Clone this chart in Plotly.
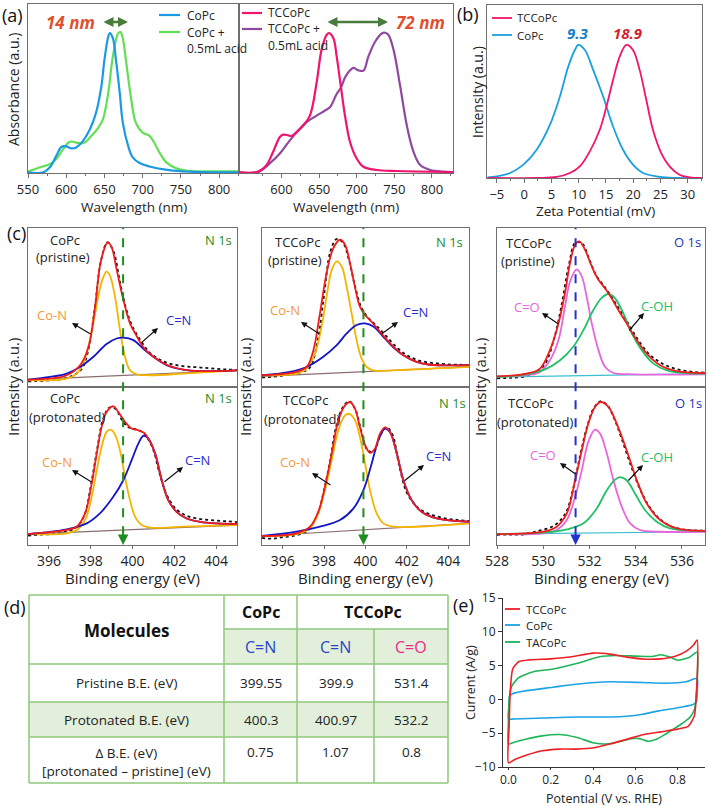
import plotly.graph_objects as go

W, H = 709, 806
FONT = "Open Sans"
FRAME = "#6f6f6f"

# ---------------- DATA ----------------
# (a) UV-vis, left panel
uv_copc_wl = [550, 570, 578.6, 587, 594, 600, 607, 613, 622, 631, 639, 646, 650, 655, 657, 661, 665, 670, 674, 681, 687, 696, 709, 730, 752, 774, 826]
uv_copc_abs = [0, 0, 0.030, 0.098, 0.152, 0.154, 0.142, 0.148, 0.187, 0.256, 0.354, 0.512, 0.669, 0.807, 0.827, 0.797, 0.669, 0.472, 0.295, 0.157, 0.089, 0.055, 0.035, 0.016, 0.006, 0.002, 0]
uv_copc_acid_wl = [550, 566, 579, 587, 596, 603, 607, 616, 624, 633, 642, 648, 655, 661, 668, 671, 674, 678, 685, 691, 700, 709, 715, 722, 731, 744, 757, 774, 826]
uv_copc_acid_abs = [0.004, 0.030, 0.049, 0.079, 0.138, 0.177, 0.183, 0.173, 0.177, 0.217, 0.266, 0.315, 0.472, 0.689, 0.827, 0.833, 0.797, 0.669, 0.433, 0.295, 0.236, 0.217, 0.177, 0.118, 0.059, 0.024, 0.010, 0.006, 0.006]
# (a) UV-vis, right panel
uv_tccopc_wl = [543.5, 568.9, 580, 588.9, 597.8, 602.2, 608.9, 613.3, 620, 628.9, 637.8, 646.7, 653.3, 660, 663.1, 668.9, 673.3, 679.1, 684.4, 691.1, 700, 708.9, 726.6, 753.3, 828]
uv_tccopc_abs = [0, 0.004, 0.043, 0.122, 0.210, 0.224, 0.220, 0.216, 0.239, 0.278, 0.337, 0.533, 0.729, 0.817, 0.827, 0.798, 0.690, 0.504, 0.337, 0.180, 0.082, 0.033, 0.014, 0.008, 0.002]
uv_tccopc_acid_wl = [543.5, 568.9, 584.4, 597.8, 611.1, 624.4, 633.3, 646.7, 657.8, 664.4, 673.3, 679.1, 684.4, 691.1, 695.5, 702.2, 708.9, 715.5, 724.4, 733.3, 737.7, 742.2, 748.9, 757.7, 766.6, 775.5, 784.4, 797.8, 815.5, 828]
uv_tccopc_acid_abs = [0, 0.002, 0.053, 0.112, 0.190, 0.259, 0.298, 0.337, 0.367, 0.386, 0.465, 0.504, 0.563, 0.606, 0.620, 0.606, 0.604, 0.688, 0.776, 0.825, 0.829, 0.816, 0.729, 0.514, 0.278, 0.122, 0.043, 0.014, 0.004, 0]
shift_labels = ["14 nm", "72 nm"]

# (b) Zeta potential
zeta_copc_mv = [-6.7, -5, -2.57, -0.13, 2.3, 4.74, 6.56, 8.09, 9.3, 9.91, 11.13, 12.65, 14.48, 16.3, 18.13, 19.95, 21.78, 24.21, 26.65, 32.55]
zeta_copc_int = [0.004, 0.010, 0.029, 0.077, 0.163, 0.308, 0.471, 0.644, 0.740, 0.769, 0.740, 0.625, 0.471, 0.298, 0.163, 0.077, 0.029, 0.010, 0.002, 0]
zeta_tccopc_mv = [-6.7, 2.3, 5.96, 8.39, 10.22, 12.04, 13.87, 15.09, 16.3, 17.52, 18.74, 19.95, 21.17, 22.39, 23.61, 25.13, 26.65, 28.47, 30.3, 32.55]
zeta_tccopc_int = [0, 0, 0.006, 0.029, 0.067, 0.154, 0.279, 0.413, 0.567, 0.702, 0.769, 0.740, 0.625, 0.452, 0.279, 0.144, 0.067, 0.019, 0.004, 0]
zeta_labels = ["9.3", "18.9"]

# (c) XPS  -- column 1: CoPc N 1s
c1u_base_be = [395, 405]; c1u_base = [0.046, 0.105]
c1u_con_be = [395.0, 396.85, 397.33, 397.65, 397.97, 398.21, 398.44, 398.6, 398.76, 398.92, 399.16, 399.4, 399.64, 399.88, 400.2, 400.84, 402.43, 405.0]
c1u_con = [0.042, 0.053, 0.084, 0.15, 0.30, 0.46, 0.62, 0.69, 0.726, 0.70, 0.57, 0.36, 0.19, 0.105, 0.08, 0.074, 0.084, 0.105]
c1u_cn_be = [395.0, 396.05, 396.85, 397.49, 398.13, 398.76, 399.24, 399.56, 400.04, 400.52, 401.0, 401.63, 402.43, 403.23, 405.0]
c1u_cn = [0.046, 0.063, 0.084, 0.126, 0.19, 0.27, 0.305, 0.31, 0.295, 0.24, 0.19, 0.137, 0.109, 0.10, 0.105]
c1u_fit_be = [395.0, 396.85, 397.49, 397.89, 398.21, 398.44, 398.68, 398.81, 399.0, 399.24, 399.56, 399.88, 400.2, 400.52, 401.0, 401.63, 402.43, 403.23, 405.0]
c1u_fit = [0.046, 0.074, 0.137, 0.25, 0.505, 0.76, 0.88, 0.91, 0.88, 0.74, 0.55, 0.40, 0.32, 0.25, 0.19, 0.14, 0.11, 0.10, 0.105]
c1u_raw_be = [395.0, 395.8, 396.6, 397.2, 397.6, 397.9, 398.2, 398.5, 398.8, 399.1, 399.4, 399.7, 400.0, 400.4, 400.8, 401.2, 401.6, 402.0, 402.5, 403.0, 403.5, 404.0, 404.5, 405.0]
c1u_raw = [0.035, 0.04, 0.05, 0.075, 0.12, 0.24, 0.50, 0.80, 0.91, 0.85, 0.66, 0.49, 0.38, 0.29, 0.22, 0.18, 0.155, 0.14, 0.13, 0.125, 0.12, 0.115, 0.11, 0.108]

c1l_base_be = [395, 405]; c1l_base = [0.069, 0.126]
c1l_con_be = [395.0, 396.85, 397.33, 397.73, 398.05, 398.29, 398.52, 398.76, 398.96, 399.16, 399.4, 399.64, 399.88, 400.12, 400.44, 400.84, 402.43, 405.0]
c1l_con = [0.069, 0.074, 0.095, 0.158, 0.305, 0.474, 0.62, 0.716, 0.73, 0.70, 0.60, 0.43, 0.284, 0.18, 0.126, 0.11, 0.116, 0.126]
c1l_cn_be = [395.0, 396.85, 397.81, 398.44, 399.08, 399.56, 399.96, 400.28, 400.52, 400.76, 401.08, 401.4, 401.71, 402.11, 402.59, 403.23, 404.03, 405.0]
c1l_cn = [0.069, 0.099, 0.137, 0.20, 0.305, 0.41, 0.537, 0.642, 0.69, 0.674, 0.58, 0.41, 0.284, 0.21, 0.168, 0.147, 0.137, 0.133]
c1l_fit_be = [395.0, 396.85, 397.33, 397.73, 398.05, 398.29, 398.52, 398.76, 399.08, 399.32, 399.64, 399.96, 400.28, 400.55, 400.76, 401.08, 401.4, 401.71, 402.11, 402.59, 403.23, 404.03, 405.0]
c1l_fit = [0.069, 0.095, 0.116, 0.20, 0.39, 0.58, 0.747, 0.842, 0.878, 0.842, 0.78, 0.737, 0.726, 0.71, 0.674, 0.58, 0.41, 0.284, 0.21, 0.168, 0.147, 0.137, 0.133]
c1l_raw_be = [395.0, 395.5, 396.2, 396.8, 397.3, 397.7, 398.0, 398.3, 398.6, 398.9, 399.2, 399.5, 399.8, 400.1, 400.4, 400.7, 401.0, 401.3, 401.6, 402.0, 402.5, 403.0, 403.5, 404.0, 404.5, 405.0]
c1l_raw = [0.06, 0.065, 0.07, 0.085, 0.11, 0.19, 0.37, 0.60, 0.80, 0.87, 0.86, 0.79, 0.745, 0.735, 0.72, 0.68, 0.60, 0.45, 0.33, 0.24, 0.19, 0.17, 0.16, 0.155, 0.15, 0.145]

# column 2: TCCoPc N 1s
c2u_base_be = [395, 405]; c2u_base = [0.067, 0.126]
c2u_con_be = [395.0, 396.67, 397.16, 397.56, 397.88, 398.12, 398.37, 398.61, 398.85, 399.09, 399.33, 399.57, 399.81, 400.06, 400.38, 402.23, 405.0]
c2u_con = [0.074, 0.084, 0.116, 0.21, 0.38, 0.568, 0.737, 0.79, 0.758, 0.63, 0.463, 0.295, 0.18, 0.126, 0.105, 0.11, 0.126]
c2u_cn_be = [395.0, 396.35, 397.16, 397.96, 398.61, 399.09, 399.57, 399.98, 400.38, 400.86, 401.34, 401.83, 402.47, 403.12, 405.0]
c2u_cn = [0.074, 0.095, 0.126, 0.19, 0.263, 0.337, 0.39, 0.40, 0.38, 0.316, 0.25, 0.20, 0.158, 0.14, 0.137]
c2u_fit_be = [395.0, 396.67, 397.16, 397.48, 397.8, 398.12, 398.45, 398.77, 399.01, 399.25, 399.49, 399.73, 399.98, 400.3, 400.7, 401.34, 401.83, 402.47, 403.12, 405.0]
c2u_fit = [0.074, 0.095, 0.126, 0.23, 0.463, 0.716, 0.874, 0.926, 0.895, 0.78, 0.63, 0.505, 0.453, 0.41, 0.347, 0.255, 0.20, 0.158, 0.14, 0.137]
c2u_raw_be = [395.0, 395.5, 396.2, 396.8, 397.3, 397.7, 398.0, 398.3, 398.6, 398.9, 399.2, 399.5, 399.8, 400.1, 400.5, 401.0, 401.5, 402.0, 402.5, 403.0, 403.5, 404.0, 404.5, 405.0]
c2u_raw = [0.06, 0.065, 0.075, 0.09, 0.12, 0.30, 0.58, 0.85, 0.93, 0.91, 0.80, 0.63, 0.50, 0.44, 0.39, 0.32, 0.25, 0.20, 0.17, 0.155, 0.148, 0.142, 0.14, 0.138]

c2l_base_be = [395, 405]; c2l_base = [0.057, 0.137]
c2l_con_be = [395.0, 396.67, 397.32, 397.72, 398.04, 398.37, 398.69, 399.01, 399.22, 399.49, 399.73, 399.98, 400.22, 400.54, 400.86, 401.34, 403.12, 405.0]
c2l_con = [0.057, 0.069, 0.105, 0.20, 0.347, 0.537, 0.726, 0.82, 0.83, 0.79, 0.684, 0.516, 0.347, 0.20, 0.137, 0.116, 0.12, 0.137]
c2l_cn_be = [395.0, 396.67, 397.8, 398.77, 399.41, 399.9, 400.3, 400.62, 400.94, 401.18, 401.51, 401.83, 402.23, 402.71, 403.44, 405.0]
c2l_cn = [0.057, 0.084, 0.116, 0.158, 0.23, 0.347, 0.516, 0.663, 0.737, 0.716, 0.58, 0.41, 0.284, 0.21, 0.168, 0.147]
c2l_fit_be = [395.0, 396.67, 397.32, 397.72, 398.04, 398.37, 398.69, 399.01, 399.25, 399.49, 399.73, 399.98, 400.22, 400.46, 400.7, 400.94, 401.18, 401.51, 401.83, 402.23, 402.71, 403.44, 405.0]
c2l_fit = [0.057, 0.074, 0.116, 0.21, 0.368, 0.58, 0.79, 0.884, 0.905, 0.863, 0.747, 0.632, 0.583, 0.61, 0.705, 0.745, 0.716, 0.58, 0.41, 0.284, 0.21, 0.168, 0.147]
c2l_raw_be = [395.0, 395.5, 396.0, 396.6, 397.2, 397.7, 398.0, 398.3, 398.6, 398.9, 399.2, 399.5, 399.8, 400.1, 400.4, 400.7, 401.0, 401.3, 401.6, 402.0, 402.5, 403.0, 403.5, 404.0, 404.5, 405.0]
c2l_raw = [0.045, 0.04, 0.05, 0.06, 0.09, 0.20, 0.35, 0.54, 0.76, 0.87, 0.91, 0.86, 0.72, 0.60, 0.59, 0.69, 0.745, 0.70, 0.52, 0.33, 0.24, 0.20, 0.18, 0.165, 0.158, 0.152]

# column 3: TCCoPc O 1s
c3u_base_be = [528, 537]; c3u_base = [0.063, 0.084]
c3u_co_be = [528.0, 529.28, 529.86, 530.29, 530.66, 530.94, 531.16, 531.45, 531.67, 531.88, 532.1, 532.39, 532.68, 533.04, 533.9, 537.0]
c3u_co = [0.067, 0.074, 0.095, 0.168, 0.295, 0.505, 0.663, 0.74, 0.695, 0.568, 0.40, 0.232, 0.126, 0.088, 0.08, 0.08]
c3u_coh_be = [528.0, 529.28, 530.15, 530.73, 531.3, 531.74, 532.17, 532.53, 532.82, 533.11, 533.47, 533.83, 534.26, 534.77, 535.35, 536.21, 537.0]
c3u_coh = [0.063, 0.08, 0.116, 0.168, 0.253, 0.358, 0.484, 0.56, 0.585, 0.558, 0.463, 0.337, 0.232, 0.147, 0.105, 0.088, 0.084]
c3u_fit_be = [528.0, 529.28, 529.86, 530.29, 530.66, 530.94, 531.16, 531.38, 531.56, 531.81, 532.1, 532.39, 532.68, 532.96, 533.25, 533.61, 534.05, 534.48, 535.06, 535.78, 537.0]
c3u_fit = [0.067, 0.084, 0.116, 0.232, 0.40, 0.59, 0.78, 0.895, 0.916, 0.863, 0.758, 0.674, 0.62, 0.558, 0.484, 0.40, 0.295, 0.21, 0.137, 0.10, 0.088]
c3u_raw_be = [528.0, 528.6, 529.2, 529.7, 530.1, 530.5, 530.8, 531.1, 531.4, 531.7, 532.0, 532.3, 532.6, 532.9, 533.2, 533.6, 534.0, 534.5, 535.0, 535.5, 536.0, 536.5, 537.0]
c3u_raw = [0.055, 0.058, 0.065, 0.09, 0.15, 0.32, 0.52, 0.76, 0.91, 0.90, 0.80, 0.70, 0.64, 0.58, 0.51, 0.42, 0.32, 0.22, 0.16, 0.125, 0.105, 0.095, 0.09]

c3l_base_be = [528, 537]; c3l_base = [0.069, 0.084]
c3l_co_be = [528.0, 530.0, 530.58, 531.02, 531.38, 531.67, 531.95, 532.24, 532.46, 532.75, 533.04, 533.4, 533.76, 534.19, 535.06, 537.0]
c3l_co = [0.069, 0.074, 0.095, 0.158, 0.305, 0.474, 0.653, 0.73, 0.705, 0.58, 0.41, 0.242, 0.137, 0.095, 0.084, 0.084]
c3l_coh_be = [528.0, 530.0, 531.02, 531.74, 532.31, 532.75, 533.11, 533.32, 533.61, 533.97, 534.41, 534.91, 535.49, 537.0]
c3l_coh = [0.069, 0.078, 0.099, 0.137, 0.23, 0.347, 0.414, 0.43, 0.41, 0.326, 0.22, 0.147, 0.105, 0.09]
c3l_fit_be = [528.0, 530.0, 530.58, 531.02, 531.38, 531.67, 531.95, 532.24, 532.49, 532.82, 533.18, 533.61, 534.05, 534.48, 535.06, 535.78, 537.0]
c3l_fit = [0.069, 0.084, 0.116, 0.20, 0.41, 0.60, 0.768, 0.874, 0.905, 0.874, 0.768, 0.60, 0.41, 0.263, 0.158, 0.105, 0.09]
c3l_raw_be = [528.0, 528.6, 529.2, 529.8, 530.3, 530.7, 531.0, 531.3, 531.6, 531.9, 532.2, 532.5, 532.8, 533.1, 533.4, 533.8, 534.2, 534.6, 535.0, 535.5, 536.0, 536.5, 537.0]
c3l_raw = [0.065, 0.066, 0.068, 0.09, 0.11, 0.15, 0.21, 0.36, 0.57, 0.75, 0.87, 0.91, 0.88, 0.79, 0.67, 0.50, 0.35, 0.24, 0.17, 0.12, 0.10, 0.092, 0.09]

# (d) table
table_molecules = ["CoPc", "TCCoPc"]
table_bonds = ["C=N", "C=N", "C=O"]
table_rows = ["Pristine B.E. (eV)", "Protonated B.E. (eV)", "Δ B.E. (eV)<br>[protonated – pristine] (eV)"]
pristine_be = [399.55, 399.9, 531.4]
protonated_be = [400.3, 400.97, 532.2]
delta_be = [0.75, 1.07, 0.8]

# (e) CV
cv_red_v = [0.0, 0.003, 0.008, 0.02, 0.05, 0.1, 0.2, 0.3, 0.4, 0.48, 0.56, 0.65, 0.72, 0.79, 0.84, 0.875, 0.893, 0.893, 0.89, 0.88, 0.85, 0.8, 0.72, 0.64, 0.56, 0.48, 0.4, 0.32, 0.24, 0.16, 0.09, 0.03, 0.0]
cv_red_i = [-9.4, -4.0, 1.0, 4.5, 5.6, 5.85, 6.0, 6.3, 6.85, 6.7, 6.25, 5.95, 6.0, 6.4, 7.1, 8.0, 8.8, 3.0, 1.5, -2.4, -4.0, -4.4, -4.8, -5.2, -5.9, -6.6, -7.2, -7.35, -7.35, -7.6, -8.2, -8.9, -9.4]
cv_blue_v = [0.0, 0.002, 0.006, 0.024, 0.086, 0.21, 0.32, 0.48, 0.635, 0.745, 0.84, 0.893, 0.893, 0.889, 0.87, 0.79, 0.71, 0.635, 0.557, 0.478, 0.32, 0.165, 0.024, 0.0]
cv_blue_i = [-2.9, -1.0, 0.5, 0.9, 1.3, 1.8, 2.25, 2.6, 2.5, 2.4, 2.6, 3.1, 1.0, -0.4, -0.8, -1.3, -1.7, -2.2, -2.5, -2.6, -2.6, -2.75, -2.9, -2.9]
cv_green_v = [0.0, 0.0, 0.005, 0.016, 0.047, 0.118, 0.212, 0.322, 0.431, 0.51, 0.604, 0.68, 0.72, 0.76, 0.8, 0.855, 0.893, 0.893, 0.889, 0.88, 0.86, 0.82, 0.78, 0.74, 0.70, 0.66, 0.62, 0.58, 0.52, 0.46, 0.40, 0.32, 0.24, 0.16, 0.08, 0.02, 0.0]
cv_green_i = [-6.6, -3.0, 0.5, 2.0, 3.2, 4.1, 4.5, 5.3, 6.3, 6.5, 6.4, 6.35, 6.6, 6.3, 5.8, 6.2, 7.0, 3.0, 0.5, -1.5, -2.6, -3.6, -4.4, -5.2, -5.9, -6.2, -5.8, -5.8, -6.3, -6.6, -6.4, -5.6, -5.2, -5.4, -5.9, -6.4, -6.6]
cv_names = ["TCCoPc", "CoPc", "TACoPc"]

# ---------------- STYLE ----------------
C_BLUE_A = "#1b9ae4"; C_GREEN_A = "#62df55"; C_PINK = "#f0146e"; C_PURPLE = "#8e4a9e"
C_RED = "#ee1c1c"; C_YEL = "#f5b400"; C_NBLUE = "#1414c8"; C_CO = "#e866dc"; C_COH = "#21c067"
C_BASE_N = "#8a6d6d"; C_BASE_O = "#3bbfcf"; C_ORANGE = "#f29a3a"
C_CV_RED = "#ee1f25"; C_CV_BLUE = "#1ba3e6"; C_CV_GREEN = "#1fb35a"

def px(x): return x / W
def py(y): return 1 - y / H

fig = go.Figure()
axes = {}

def sfx(n): return "" if n == 1 else str(n)

def make_axes(n, xpix, ypix, xr, yr, xkw=None, ykw=None):
    s = sfx(n)
    base = dict(showline=True, mirror=True, linecolor=FRAME, linewidth=1, showgrid=False,
                zeroline=False, ticks="", showticklabels=False, fixedrange=True, automargin=False,
                tickfont=dict(family=FONT, size=14, color="#222"))
    xa = dict(base, domain=[px(xpix[0]), px(xpix[1])], range=xr, anchor="y" + s)
    ya = dict(base, domain=[py(ypix[1]), py(ypix[0])], range=yr, anchor="x" + s)
    if xkw: xa.update(xkw)
    if ykw: ya.update(ykw)
    axes["xaxis" + s] = xa
    axes["yaxis" + s] = ya

def line(n, x, y, color, width=2, dash=None, smoothing=1.0):
    s = sfx(n)
    fig.add_trace(go.Scatter(x=x, y=y, mode="lines",
                             line=dict(color=color, width=width, dash=dash, shape="spline", smoothing=smoothing),
                             xaxis="x" + s, yaxis="y" + s, showlegend=False, hoverinfo="skip"))

ann = []
shapes = []

def text(x, y, t, size=13, color="#222", bold=False, italic=False, angle=0, xanchor="center", family=FONT):
    if bold: t = "<b>" + t + "</b>"
    if italic: t = "<i>" + t + "</i>"
    ann.append(dict(x=px(x), y=py(y), xref="paper", yref="paper", text=t, showarrow=False,
                    font=dict(family=family, size=size, color=color), textangle=angle,
                    xanchor=xanchor, yanchor="middle"))

def arrow(hx, hy, tx, ty, color="#111", width=1.2, both=False, head=2, size=1.0):
    d = dict(x=px(hx), y=py(hy), xref="paper", yref="paper", ax=tx - hx, ay=ty - hy,
             axref="pixel", ayref="pixel", text="", showarrow=True, arrowhead=head,
             arrowsize=size, arrowwidth=width, arrowcolor=color)
    if both:
        d["arrowside"] = "end+start"; d["startarrowhead"] = head; d["startarrowsize"] = size
    ann.append(d)

def seg(x0, y0, x1, y1, color, width=2, dash=None):
    shapes.append(dict(type="line", xref="paper", yref="paper", x0=px(x0), y0=py(y0), x1=px(x1), y1=py(y1),
                       line=dict(color=color, width=width, dash=dash)))

TICKF = dict(family=FONT, size=13, color="#222")
TICKE = dict(family=FONT, size=12, color="#222")

# ---------------- (a) ----------------
make_axes(1, (28, 239), (4, 173), [550, 826], [-0.004, 1.0],
          xkw=dict(showticklabels=True, ticks="outside", ticklen=4, tickcolor=FRAME, tickmode="array",
                   tickvals=[550, 600, 650, 700, 750, 800], tickfont=TICKF,
                   minor=dict(ticks="outside", ticklen=2, tickcolor=FRAME, tickmode="array",
                              tickvals=[575, 625, 675, 725, 775, 825])))
make_axes(2, (239, 453), (4, 173), [543.5, 828], [-0.004, 1.0],
          xkw=dict(showticklabels=True, ticks="outside", ticklen=4, tickcolor=FRAME, tickmode="array",
                   tickvals=[600, 650, 700, 750, 800], tickfont=TICKF,
                   minor=dict(ticks="outside", ticklen=2, tickcolor=FRAME, tickmode="array",
                              tickvals=[575, 625, 675, 725, 775, 825])))
line(1, uv_copc_acid_wl, uv_copc_acid_abs, C_GREEN_A, 2.2)
line(1, uv_copc_wl, uv_copc_abs, C_BLUE_A, 2.2)
line(2, uv_tccopc_acid_wl, uv_tccopc_acid_abs, C_PURPLE, 2.2)
line(2, uv_tccopc_wl, uv_tccopc_abs, C_PINK, 2.2)

text(12, 15, "(a)", size=18, color="#111")
text(13, 90, "Absorbance (a.u.)", size=14, angle=-90)
text(134, 207, "Wavelength (nm)", size=13.5)
text(346, 207, "Wavelength (nm)", size=13.5)
text(70, 22, shift_labels[0], size=17, color="#e0502c", bold=True, italic=True)
arrow(128, 22, 102, 22, color="#4a7c3b", width=2.5, both=True, head=2, size=0.8)
text(420, 22, shift_labels[1], size=17, color="#e0502c", bold=True, italic=True)
arrow(388, 22, 326, 22, color="#4a7c3b", width=2.5, both=True, head=2, size=0.8)
# legends (a)
seg(159, 15, 180, 15, C_BLUE_A, 2.2); text(185, 15, "CoPc", 12, xanchor="left")
seg(159, 32, 180, 32, C_GREEN_A, 2.2); text(185, 32, "CoPc +", 12, xanchor="left")
text(185, 48, "0.5mL acid", 12, xanchor="left")
seg(242, 13, 262, 13, C_PINK, 2.2); text(266, 13, "TCCoPc", 12, xanchor="left")
seg(242, 29, 262, 29, C_PURPLE, 2.2); text(266, 29, "TCCoPc +", 12, xanchor="left")
text(266, 45, "0.5mL acid", 12, xanchor="left")

# ---------------- (b) ----------------
make_axes(3, (487, 702), (5, 178), [-6.8, 32.6], [0, 1.0],
          xkw=dict(showticklabels=True, ticks="outside", ticklen=4, tickcolor=FRAME, tickmode="array",
                   tickvals=[-5, 0, 5, 10, 15, 20, 25, 30], tickfont=TICKF,
                   minor=dict(ticks="outside", ticklen=2, tickcolor=FRAME, tickmode="array",
                              tickvals=[-2.5, 2.5, 7.5, 12.5, 17.5, 22.5, 27.5, 32.5])))
line(3, zeta_copc_mv, zeta_copc_int, "#1aa0e0", 1.8)
line(3, zeta_tccopc_mv, zeta_tccopc_int, C_PINK, 1.8)
text(468, 14, "(b)", size=18, color="#111")
text(478, 92, "Intensity (a.u.)", size=14, angle=-90)
text(595, 211, "Zeta Potential (mV)", size=13.5)
text(578, 33, zeta_labels[0], size=15, color="#1a7fc8", bold=True, italic=True)
text(627, 33, zeta_labels[1], size=15, color="#d41f30", bold=True, italic=True)
seg(492, 18, 512, 18, C_PINK, 1.8); text(515, 18, "TCCoPc", 11.5, xanchor="left")
seg(492, 35, 512, 35, "#1aa0e0", 1.8); text(515, 35, "CoPc", 11.5, xanchor="left")

# ---------------- (c) ----------------
xt_n = dict(showticklabels=True, ticks="outside", ticklen=3, tickcolor=FRAME, tickmode="array",
            tickvals=[396, 398, 400, 402, 404])
xt_o = dict(showticklabels=True, ticks="outside", ticklen=3, tickcolor=FRAME, tickmode="array",
            tickvals=[528, 530, 532, 534, 536])
cols = [(28, 237), (262, 469), (497, 705)]
UP = (228, 387); LO = (387, 545)
make_axes(4, cols[0], UP, [395, 405], [0, 1])
make_axes(5, cols[0], LO, [395, 405], [0, 1], xkw=xt_n)
make_axes(6, cols[1], UP, [395, 405], [0, 1])
make_axes(7, cols[1], LO, [395, 405], [0, 1], xkw=xt_n)
make_axes(8, cols[2], UP, [528, 537], [0, 1])
make_axes(9, cols[2], LO, [528, 537], [0, 1], xkw=xt_o)

panels = [
    (4, c1u_raw_be, c1u_raw, c1u_base_be, c1u_base, c1u_con_be, c1u_con, c1u_cn_be, c1u_cn, c1u_fit_be, c1u_fit, C_BASE_N, C_YEL, C_NBLUE),
    (5, c1l_raw_be, c1l_raw, c1l_base_be, c1l_base, c1l_con_be, c1l_con, c1l_cn_be, c1l_cn, c1l_fit_be, c1l_fit, C_BASE_N, C_YEL, C_NBLUE),
    (6, c2u_raw_be, c2u_raw, c2u_base_be, c2u_base, c2u_con_be, c2u_con, c2u_cn_be, c2u_cn, c2u_fit_be, c2u_fit, C_BASE_N, C_YEL, C_NBLUE),
    (7, c2l_raw_be, c2l_raw, c2l_base_be, c2l_base, c2l_con_be, c2l_con, c2l_cn_be, c2l_cn, c2l_fit_be, c2l_fit, C_BASE_N, C_YEL, C_NBLUE),
    (8, c3u_raw_be, c3u_raw, c3u_base_be, c3u_base, c3u_co_be, c3u_co, c3u_coh_be, c3u_coh, c3u_fit_be, c3u_fit, C_BASE_O, C_CO, C_COH),
    (9, c3l_raw_be, c3l_raw, c3l_base_be, c3l_base, c3l_co_be, c3l_co, c3l_coh_be, c3l_coh, c3l_fit_be, c3l_fit, C_BASE_O, C_CO, C_COH),
]
for (n, rb, r, bb, b, p1b, p1, p2b, p2, fb, f, cb, c1, c2) in panels:
    line(n, rb, r, "#111", 1.8, dash="dot")
    line(n, bb, b, cb, 1.2)
    line(n, p1b, p1, c1, 1.8)
    line(n, p2b, p2, c2, 1.8)
    line(n, fb, f, C_RED, 1.8)

# dashed reference lines at pristine B.E.
for n_up, n_lo, val, col in [(4, 5, pristine_be[0], "#1e8c1e"), (6, 7, pristine_be[1], "#1e8c1e"), (8, 9, pristine_be[2], "#2233cc")]:
    shapes.append(dict(type="line", xref="x" + sfx(n_up), yref="paper", x0=val, x1=val,
                       y0=py(LO[1]) + 0.012, y1=py(UP[0]), line=dict(color=col, width=2, dash="dash")))
    ann.append(dict(x=val, y=0.0, xref="x" + sfx(n_lo), yref="y" + sfx(n_lo), ax=0, ay=-10, text="",
                    showarrow=True, arrowhead=2, arrowsize=1.3, arrowwidth=1.6, arrowcolor=col))

text(16, 233, "(c)", size=18, color="#111")
for cx in (13, 245, 480):
    text(cx, 387, "Intensity (a.u.)", size=15, angle=-90)
for (a, b) in cols:
    text((a + b) / 2, 578, "Binding energy (eV)", size=15)

# column 1 labels
text(65, 240, "CoPc", 13); text(63, 257, "(pristine)", 13)
text(218, 240, "N 1s", 13, color="#1e8c1e")
text(52, 315, "Co-N", 13, color=C_ORANGE); arrow(72, 323, 92, 335)
text(178, 320, "C=N", 13, color="#2a2ad0"); arrow(158, 328, 140, 344)
text(65, 398, "CoPc", 13); text(67, 417, "(protonated)", 13)
text(218, 398, "N 1s", 13, color="#1e8c1e")
text(57, 462, "Co-N", 13, color=C_ORANGE); arrow(72, 470, 93, 483)
text(197, 460, "C=N", 13, color="#2a2ad0"); arrow(183, 467, 163, 483)
# column 2 labels
text(297, 242, "TCCoPc", 13); text(295, 260, "(pristine)", 13)
text(449, 242, "N 1s", 13, color="#1e8c1e")
text(285, 310, "Co-N", 13, color=C_ORANGE); arrow(301, 322, 321, 335)
text(415, 312, "C=N", 13, color="#2a2ad0"); arrow(398, 322, 380, 335)
text(305, 400, "TCCoPc", 13); text(302, 419, "(protonated)", 13)
text(452, 403, "N 1s", 13, color="#1e8c1e")
text(295, 462, "Co-N", 13, color=C_ORANGE); arrow(312, 473, 332, 486)
text(438, 456, "C=N", 13, color="#2a2ad0"); arrow(424, 465, 403, 482)
# column 3 labels
text(528, 243, "TCCoPc", 13); text(528, 261, "(pristine)", 13)
text(687, 242, "O 1s", 13, color="#2233bb")
text(527, 307, "C=O", 13, color=C_CO); arrow(542, 313, 560, 325)
text(657, 306, "C-OH", 13, color=C_COH); arrow(644, 313, 628, 332)
text(530, 403, "TCCoPc", 13); text(535, 422, "(protonated)", 13)
text(688, 403, "O 1s", 13, color="#2233bb")
text(543, 455, "C=O", 13, color=C_CO); arrow(560, 463, 577, 475)
text(657, 457, "C-OH", 13, color=C_COH); arrow(643, 465, 627, 482)

# ---------------- (d) table ----------------
TB = "#8fc97a"; TF = "#e2efda"
xs = [29, 224, 297, 374, 448]
ys = [595, 629, 664, 702, 737, 783]
def rect(x0, y0, x1, y1, fill):
    shapes.append(dict(type="rect", xref="paper", yref="paper", x0=px(x0), y0=py(y1), x1=px(x1), y1=py(y0),
                       fillcolor=fill, line=dict(width=0), layer="below"))
rect(xs[1], ys[1], xs[4], ys[2], TF)
rect(xs[0], ys[3], xs[4], ys[4], TF)
for y in (ys[0], ys[2], ys[3], ys[4], ys[5]):
    seg(xs[0], y, xs[4], y, TB, 1.5)
seg(xs[1], ys[1], xs[4], ys[1], TB, 1.5)
for x in (xs[0], xs[1], xs[2], xs[4]):
    seg(x, ys[0], x, ys[5], TB, 1.5)
seg(xs[3], ys[1], xs[3], ys[5], TB, 1.5)

text(15, 607, "(d)", size=18, color="#111")
text((xs[0] + xs[1]) / 2, 630, "Molecules", 17, color="#111", bold=True)
text((xs[1] + xs[2]) / 2, 612, table_molecules[0], 16, color="#111", bold=True)
text((xs[2] + xs[4]) / 2, 612, table_molecules[1], 16, color="#111", bold=True)
bond_colors = ["#2b44c8", "#2b44c8", "#ee2a8a"]
for i, bnd in enumerate(table_bonds):
    text((xs[i + 1] + xs[i + 2]) / 2, 647, bnd, 16, color=bond_colors[i])
text((xs[0] + xs[1]) / 2, 683, table_rows[0], 13.5)
text((xs[0] + xs[1]) / 2, 720, table_rows[1], 13.5)
text((xs[0] + xs[1]) / 2, 762, table_rows[2], 13.5)
for i in range(3):
    cx = (xs[i + 1] + xs[i + 2]) / 2
    text(cx, 683, str(pristine_be[i]), 13.5)
    text(cx, 720, str(protonated_be[i]), 13.5)
    text(cx, 752, str(delta_be[i]), 13.5)

# ---------------- (e) CV ----------------
make_axes(10, (503, 705), (598, 767), [-0.026, 0.93], [-10, 15],
          xkw=dict(showticklabels=True, ticks="outside", ticklen=2, tickcolor="#333", linecolor="#333",
                   mirror=False, tickmode="array", tickvals=[0, 0.2, 0.4, 0.6, 0.8],
                   ticktext=["0.0", "0.2", "0.4", "0.6", "0.8"], tickfont=TICKE),
          ykw=dict(showticklabels=True, ticks="outside", ticklen=4, tickcolor="#333", linecolor="#333",
                   mirror=False, tickmode="array", tickvals=[-10, -5, 0, 5, 10, 15], tickfont=TICKE))
line(10, cv_blue_v, cv_blue_i, C_CV_BLUE, 1.6, smoothing=0.6)
line(10, cv_green_v, cv_green_i, C_CV_GREEN, 1.6, smoothing=0.6)
line(10, cv_red_v, cv_red_i, C_CV_RED, 1.6, smoothing=0.6)
text(463, 605, "(e)", size=18, color="#111")
text(470, 683, "Current (A/g)", size=12.5, angle=-90)
text(604, 798, "Potential (V vs. RHE)", size=12.5)
for yy, c, nm in [(609, C_CV_RED, cv_names[0]), (625, C_CV_BLUE, cv_names[1]), (642, C_CV_GREEN, cv_names[2])]:
    seg(505, yy, 520, yy, c, 1.8)
    text(524, yy, nm, 11.5, xanchor="left")

fig.update_layout(width=W, height=H, margin=dict(l=0, r=0, t=0, b=0, autoexpand=False), paper_bgcolor="white",
                  plot_bgcolor="rgba(0,0,0,0)", showlegend=False, annotations=ann, shapes=shapes,
                  font=dict(family=FONT, size=13, color="#222"), **axes)
fig.write_html("out.html", config={"displayModeBar": False, "staticPlot": True},
               post_script="document.body.style.margin='0px'; document.body.style.overflow='hidden';")
